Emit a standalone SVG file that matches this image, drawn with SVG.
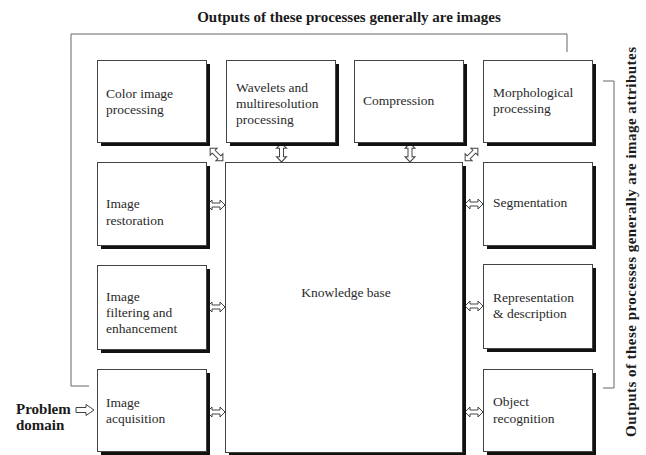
<svg xmlns="http://www.w3.org/2000/svg" width="646" height="455" viewBox="0 0 646 455">
<style>
.box{fill:#fff;stroke:#444;stroke-width:1}
.sh{fill:#111}
.t{font-family:"Liberation Serif","Times New Roman",serif;font-size:13.5px;fill:#2a2a2a}
.b{font-family:"Liberation Serif","Times New Roman",serif;font-size:15px;font-weight:bold;fill:#1a1a1a}
.ln{fill:none;stroke:#666;stroke-width:1}
.ar{fill:#fff;stroke:#444;stroke-width:1}
</style>
<defs>
<path id="dbl" d="M-9,0 L-4,-5 L-4,-2 L4,-2 L4,-5 L9,0 L4,5 L4,2 L-4,2 L-4,5 Z"/>
<path id="sgl" d="M-9,-2.5 L1,-2.5 L1,-5.5 L9,0 L1,5.5 L1,2.5 L-9,2.5 Z"/>
</defs>
<text class="b" x="349" y="22" text-anchor="middle">Outputs of these processes generally are images</text>
<text class="b" transform="translate(636,242) rotate(-90)" text-anchor="middle" textLength="390" lengthAdjust="spacing">Outputs of these processes generally are image attributes</text>
<text class="b" x="16" y="414">Problem</text>
<text class="b" x="16" y="430">domain</text>
<g id="connectors">
<path class="ln" d="M89,386 H71 V34 H567 V52"/>
<path class="ln" d="M603,81 H614 V388 H603"/>
<use href="#sgl" class="ar" transform="translate(85,410)"/>
<use href="#dbl" class="ar" transform="translate(216.5,154.5) rotate(45)"/>
<use href="#dbl" class="ar" transform="translate(281.5,152.5) rotate(90) scale(1.05,1)"/>
<use href="#dbl" class="ar" transform="translate(410,152.5) rotate(90) scale(1.05,1)"/>
<use href="#dbl" class="ar" transform="translate(471.5,154.5) rotate(-45)"/>
<use href="#dbl" class="ar" transform="translate(216,205)"/>
<use href="#dbl" class="ar" transform="translate(216,307)"/>
<use href="#dbl" class="ar" transform="translate(216,412)"/>
<use href="#dbl" class="ar" transform="translate(474,204)"/>
<use href="#dbl" class="ar" transform="translate(474,306)"/>
<use href="#dbl" class="ar" transform="translate(474,412)"/>
</g>
<g id="kb">
<rect class="sh" x="229" y="166" width="237" height="290"/>
<rect class="box" x="225.5" y="162.5" width="237" height="290"/>
<text class="t" x="346" y="297" text-anchor="middle">Knowledge base</text>
</g>
<g id="color">
<rect class="sh" x="101" y="64" width="109" height="82"/>
<rect class="box" x="97.5" y="60.5" width="109" height="82"/>
<text class="t" x="106" y="98">Color image</text>
<text class="t" x="106" y="114">processing</text>
</g>
<g id="wavelets">
<rect class="sh" x="230" y="64" width="109" height="82"/>
<rect class="box" x="226.5" y="60.5" width="109" height="82"/>
<text class="t" x="236" y="92">Wavelets and</text>
<text class="t" x="236" y="108">multiresolution</text>
<text class="t" x="236" y="124">processing</text>
</g>
<g id="compression">
<rect class="sh" x="358" y="64" width="109" height="82"/>
<rect class="box" x="354.5" y="60.5" width="109" height="82"/>
<text class="t" x="363" y="105">Compression</text>
</g>
<g id="morph">
<rect class="sh" x="487" y="64" width="109" height="82"/>
<rect class="box" x="483.5" y="60.5" width="109" height="82"/>
<text class="t" x="493" y="97">Morphological</text>
<text class="t" x="493" y="113">processing</text>
</g>
<g id="restoration">
<rect class="sh" x="101" y="166" width="109" height="83"/>
<rect class="box" x="97.5" y="162.5" width="109" height="83"/>
<text class="t" x="106" y="208">Image</text>
<text class="t" x="106" y="225">restoration</text>
</g>
<g id="filtering">
<rect class="sh" x="101" y="269" width="109" height="84"/>
<rect class="box" x="97.5" y="265.5" width="109" height="84"/>
<text class="t" x="106" y="301">Image</text>
<text class="t" x="106" y="317">filtering and</text>
<text class="t" x="106" y="333">enhancement</text>
</g>
<g id="acquisition">
<rect class="sh" x="101" y="373" width="109" height="82"/>
<rect class="box" x="97.5" y="369.5" width="109" height="82"/>
<text class="t" x="106" y="407">Image</text>
<text class="t" x="106" y="423">acquisition</text>
</g>
<g id="segmentation">
<rect class="sh" x="487" y="166" width="109" height="83"/>
<rect class="box" x="483.5" y="162.5" width="109" height="83"/>
<text class="t" x="493" y="207">Segmentation</text>
</g>
<g id="representation">
<rect class="sh" x="487" y="268" width="109" height="84"/>
<rect class="box" x="483.5" y="264.5" width="109" height="84"/>
<text class="t" x="493" y="302">Representation</text>
<text class="t" x="493" y="318">&amp; description</text>
</g>
<g id="recognition">
<rect class="sh" x="487" y="373" width="109" height="82"/>
<rect class="box" x="483.5" y="369.5" width="109" height="82"/>
<text class="t" x="493" y="406">Object</text>
<text class="t" x="493" y="423">recognition</text>
</g>
</svg>
